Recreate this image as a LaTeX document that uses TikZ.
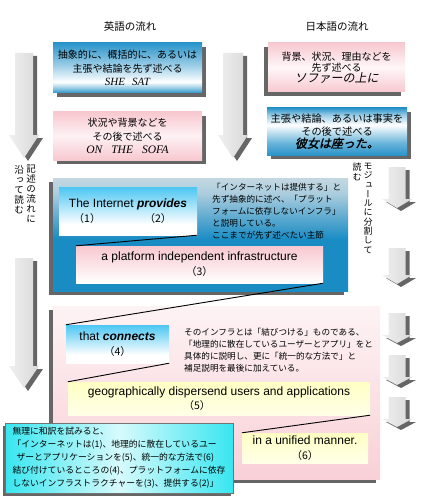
\documentclass[tikz,border=0pt]{standalone}
\usepackage{fontspec}
\setmainfont{Noto Sans CJK JP}
\newfontfamily\enfont{Liberation Sans}
\newfontfamily\enserif{Liberation Serif}
\newfontfamily\jpslant[FakeSlant=0.2]{Noto Sans CJK JP}
\newfontfamily\jpslantb[FakeSlant=0.2,FakeBold=1.5]{Noto Sans CJK JP}
\newfontfamily\jpvert[RawFeature=+vert]{Noto Sans CJK JP}
\usetikzlibrary{shadows}
\definecolor{bl}{HTML}{2A94CA}
\definecolor{pk}{HTML}{F8C8D0}
\definecolor{cy}{HTML}{4CC6F2}
\definecolor{pnlblue}{HTML}{1A8CC4}
\definecolor{pnltop}{HTML}{C4D8E2}
\definecolor{ylw}{HTML}{FFFFC4}
\definecolor{cyb}{HTML}{38E6F0}
\definecolor{arrdark}{HTML}{666666}
\definecolor{pnlpinktop}{HTML}{FDF3F4}
\pgfdeclareverticalshading{blueA}{100bp}{color(0bp)=(bl); color(25bp)=(bl); color(30bp)=(bl!50!white); color(36bp)=(white); color(52bp)=(bl!45!white); color(75bp)=(bl); color(100bp)=(bl)}
\pgfdeclareverticalshading{blueB}{100bp}{color(0bp)=(bl); color(25bp)=(bl); color(38bp)=(bl!70!white); color(57bp)=(white); color(68bp)=(bl!50!white); color(75bp)=(bl); color(100bp)=(bl)}
\pgfdeclareverticalshading{panelS}{100bp}{color(0bp)=(pnlblue); color(25bp)=(pnlblue); color(48bp)=(pnlblue); color(60bp)=(pnlblue!50!pnltop); color(68bp)=(pnltop!85!pnlblue); color(75bp)=(pnltop); color(100bp)=(pnltop)}
\pgfdeclareverticalshading{cyS}{100bp}{color(0bp)=(white); color(25bp)=(white); color(36bp)=(white); color(75bp)=(cy); color(100bp)=(cy)}
\newcommand\parnum[1]{{\rmfamily\fontsize{10.5}{15}\selectfont （#1）}}
\newcommand\grayarrow[6]{%
  \fill[arrdark, shift={(4,3)}] ({#1-#5},#2) -- ({#1+#5},#2) -- ({#1+#5},#3) -- ({#1+#6},#3) -- (#1,#4) -- ({#1-#6},#3) -- ({#1-#5},#3) -- cycle;
  \shade[arrowbody] ({#1-#5},#2) -- ({#1+#5},#2) -- ({#1+#5},#3) -- ({#1+#6},#3) -- (#1,#4) -- ({#1-#6},#3) -- ({#1-#5},#3) -- cycle;}
\begin{document}
\begin{tikzpicture}[x=1pt,y=-1pt,
  every node/.style={inner sep=0pt, align=center},
  rdsh/.style={drop shadow={shadow xshift=4pt,shadow yshift=-4pt,opacity=.8,fill=black!75}},
  ldsh/.style={drop shadow={shadow xshift=-4pt,shadow yshift=-4pt,opacity=.8,fill=black!75}},
  conn/.style={draw=black, line width=0.9pt},
  arrowbody/.style={left color=gray!12, right color=gray!30},
  hdr/.style={font=\fontsize{10.5}{12}\selectfont},
  jtxt/.style={font=\fontsize{10}{13.5}\selectfont},
  note/.style={align=left, anchor=west, font=\fontsize{8.6}{12}\selectfont},
  entxt/.style={font=\enfont\fontsize{12}{15}\selectfont},
  vtxt/.style={anchor=north, font=\jpvert\fontsize{9.5}{10}\selectfont}
]
\fill[white] (0,0) rectangle (420,500);
\useasboundingbox (0,0) rectangle (420,500);

% headers
\node[hdr] (hdrEn) at (130,27) {英語の流れ};
\node[hdr] (hdrJa) at (337,27) {日本語の流れ};

% big arrows
\grayarrow{24}{53}{135}{158}{9}{15}
\grayarrow{233}{53}{135}{158}{10}{15}
\grayarrow{24}{258}{366}{388}{9}{15}
% small arrows
\grayarrow{397}{167}{199}{208}{8.5}{15}
\grayarrow{397}{248}{275}{284}{8.5}{15}
\grayarrow{397}{313}{335}{343}{8.5}{15}
\grayarrow{397}{355}{377}{385}{8.5}{15}
\grayarrow{397}{397}{419}{427}{8.5}{15}

% top boxes
\node[rdsh, shade, shading=blueA, minimum width=149, minimum height=50, jtxt] (b1) at (127.5,68)
  {抽象的に、概括的に、あるいは\\主張や結論を先ず述べる\\{\enserif\itshape\fontsize{11}{13.5}\selectfont SHE\hspace{7pt}SAT}};
\node[rdsh, shade, top color=pk, bottom color=pk, middle color=pk!25!white, minimum width=149, minimum height=48, jtxt] (b2) at (127.5,136)
  {状況や背景などを\\その後で述べる\\{\enserif\itshape\fontsize{11.5}{14}\selectfont ON\hspace{9pt}THE\hspace{9pt}SOFA}};
\node[ldsh, shade, top color=pk, bottom color=pk, middle color=pk!15!white, minimum width=137, minimum height=49, font=\fontsize{10}{11}\selectfont] (b3) at (336.5,67.5)
  {背景、状況、理由などを\\先ず述べる\\{\jpslant\fontsize{12}{12}\selectfont ソファーの上に}};
\node[rdsh, shade, shading=blueB, minimum width=140, minimum height=47, font=\fontsize{10.2}{12.5}\selectfont] (b4) at (337,131.5)
  {主張や結論、あるいは事実を\\その後で述べる\\{\jpslantb\fontsize{12}{13}\selectfont 彼女は座った。}};

% vertical texts
\node[vtxt] (v1) at (31,165) {記\\述\\の\\流\\れ\\に};
\node[vtxt] (v2) at (19,165) {沿\\っ\\て\\読\\む};
\node[vtxt, font=\jpvert\fontsize{9}{9.3}\selectfont] (v3) at (368,163) {モ\\ジ\\ュ\\ー\\ル\\に\\分\\割\\し\\て};
\node[vtxt, font=\jpvert\fontsize{9}{9.3}\selectfont] (v4) at (357,163) {読\\む};

% blue panel
\node[ldsh, shade, shading=panelS, minimum width=295, minimum height=113] (bp) at (200.5,234.5) {};
\node[shade, shading=cyS, minimum width=138, minimum height=48, entxt] (p12) at (128,211)
  {The Internet {\bfseries\itshape provides}\\\parnum{1}\hspace{44pt}\parnum{2}\hspace*{11pt}};
\node[shade, top color=pk, bottom color=white, minimum width=247, minimum height=37, entxt] (p3) at (199.5,264.5)
  {a platform independent infrastructure\\\parnum{3}};
\node[note] (n1) at (212,211)
  {「インターネットは提供する」と\\先ず抽象的に述べ、「プラット\\フォームに依存しないインフラ」\\と説明している。\\ここまでが先ず述べたい主節};

% pink panel
\node[ldsh, shade, top color=pnlpinktop, bottom color=pk!85!white, minimum width=327, minimum height=173] (pp) at (216.5,392.5) {};
\node[shade, shading=cyS, minimum width=103, minimum height=38, entxt] (p4) at (117.5,344)
  {that {\bfseries\itshape connects}\\\parnum{4}};
\node[note] (n2) at (184,350)
  {そのインフラとは「結びつける」ものである、\\「地理的に散在しているユーザーとアプリ」をと\\具体的に説明し、更に「統一的な方法で」と\\補足説明を最後に加えている。};
\node[shade, top color=ylw, bottom color=ylw!40!white, minimum width=302, minimum height=33, font=\enfont\fontsize{12}{13.5}\selectfont] (p5) at (219,398.5)
  {geographically dispersend users and applications\\\parnum{5}\hspace*{44pt}};
\node[shade, top color=ylw, bottom color=ylw!40!white, minimum width=126, minimum height=30, entxt] (p6) at (305,448)
  {in a unified manner.\\\parnum{6}};

% connectors
\draw[conn] (p12.south east) -- (p3.north west);
\draw[conn] (p3.south east) -- (p4.north west);
\draw[conn] (p4.south east) -- (p5.north west);
\draw[conn] (p5.south east) -- (p6.north west);

% cyan summary box
\node[drop shadow={shadow xshift=-2pt,shadow yshift=-3pt,opacity=.8,fill=black!75},
  draw=black!55, line width=0.8pt, shade, left color=cyb, right color=cyb, middle color=cyb!20!white,
  minimum width=228, minimum height=70, align=left, font=\fontsize{8.8}{13}\selectfont] (cb) at (119,458)
  {無理に和訳を試みると、\\「インターネットは(1)、地理的に散在しているユー\\\hspace*{4pt}ザーとアプリケーションを(5)、統一的な方法で(6)\\結び付けているところの(4)、プラットフォームに依存\\しないインフラストラクチャーを(3)、提供する(2)」};
\end{tikzpicture}
\end{document}
